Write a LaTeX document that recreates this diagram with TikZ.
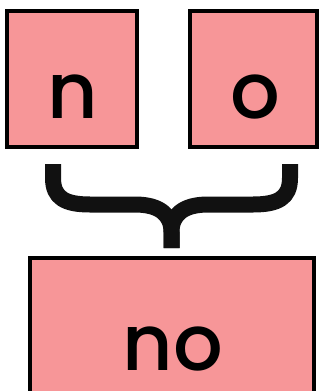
\documentclass[tikz,border=0pt]{standalone}
\usepackage{fontspec}
\setmainfont{Poppins}[UprightFont=* Medium]
\definecolor{boxpink}{RGB}{247,150,152}
\definecolor{bracecol}{RGB}{17,17,17}
\begin{document}
\begin{tikzpicture}[x=1pt,y=-1pt,
  box/.style={draw=black,fill=boxpink,line width=4pt,inner sep=0pt,rectangle},
  lbl/.style={anchor=base,inner sep=0pt,font=\fontsize{78}{80}\selectfont},
  brace/.style={draw=bracecol,line width=16pt,line cap=butt,line join=round}]
\useasboundingbox (0,0) rectangle (320,391);
\node[box,minimum width=130pt,minimum height=136pt] (b1) at (72,79) {};
\node[box,minimum width=127pt,minimum height=136pt] (b2) at (253.5,79) {};
\node[box,minimum width=284pt,minimum height=135pt] (b3) at (172,325.5) {};
\node[lbl] (t1) at (73,118) {n};
\node[lbl] (t2) at (255,118) {o};
\node[lbl] (t3) at (173,370) {no};
\coordinate (bl) at (53,164);
\coordinate (br) at (290,164);
\coordinate (tip) at (171.5,248);
\draw[brace] (bl) -- (53,178) .. controls (53,198) and (65,204.5) .. (90,204.5) -- (135,204.5) .. controls (160,204.5) and (171.5,215) .. (171.5,232) -- (tip);
\draw[brace] (br) -- (290,178) .. controls (290,198) and (278,204.5) .. (253,204.5) -- (208,204.5) .. controls (183,204.5) and (171.5,215) .. (171.5,232) -- (tip);
\end{tikzpicture}
\end{document}
